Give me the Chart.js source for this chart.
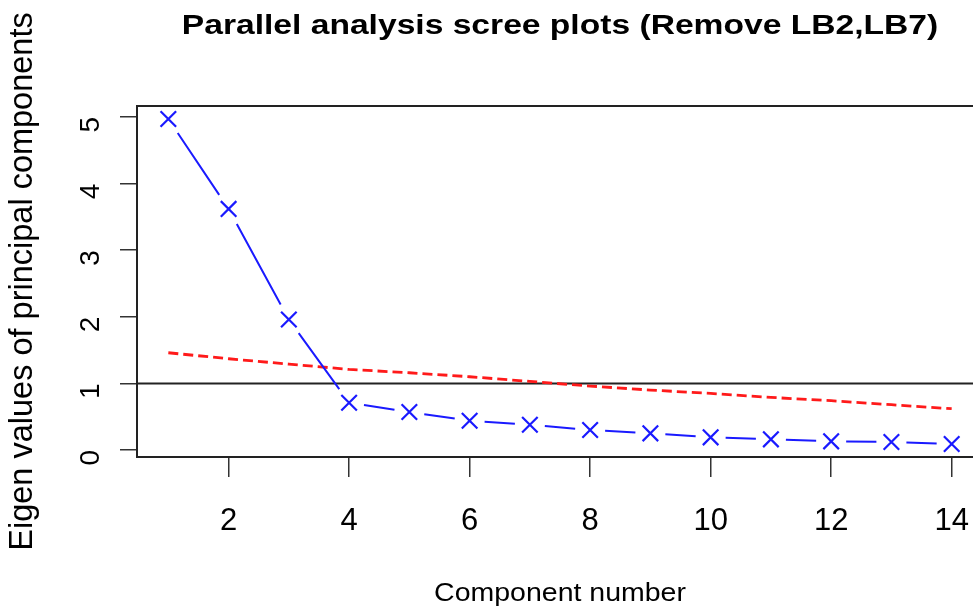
<!DOCTYPE html>
<html>
<head>
<meta charset="utf-8">
<script src="https://cdn.jsdelivr.net/npm/chart.js@4.4.0/dist/chart.umd.min.js"></script>
<style>
  html, body { margin: 0; padding: 0; background: #fff; overflow: hidden; }
  #wrap { width: 1120px; height: 609px; }
</style>
</head>
<body>
<div id="wrap"><canvas id="scree" width="1120" height="609"></canvas></div>
<script>
// Parallel analysis scree plot data
const components = [1, 2, 3, 4, 5, 6, 7, 8, 9, 10, 11, 12, 13, 14];
const actualEigen = [4.97, 3.62, 1.96, 0.71, 0.57, 0.44, 0.38, 0.30, 0.25, 0.19, 0.16, 0.13, 0.12, 0.09];
const simulatedEigen = [1.46, 1.37, 1.29, 1.21, 1.16, 1.10, 1.03, 0.96, 0.90, 0.85, 0.79, 0.74, 0.68, 0.62];
const xTicks = [2, 4, 6, 8, 10, 12, 14];
const yTicks = [0, 1, 2, 3, 4, 5];
const refLine = 1;
const mainTitle = 'Parallel analysis scree plots (Remove LB2,LB7)';
const xLabel = 'Component number';
const yLabel = 'Eigen values of principal components';

const sans = '"Liberation Sans", Arial, Helvetica, sans-serif';

// R style box around the plot region plus the abline(h = 1)
const boxPlugin = {
    id: 'rbox',
    beforeDatasetsDraw: (chart) => {
        const ctx = chart.ctx;
        const a = chart.chartArea;
        const y = chart.scales.y.getPixelForValue(refLine);
        ctx.save();
        ctx.strokeStyle = '#222';
        ctx.lineWidth = 2;
        ctx.beginPath();
        ctx.moveTo(a.left, y);
        ctx.lineTo(a.right, y);
        ctx.stroke();
        ctx.strokeRect(a.left, a.top, a.right - a.left, a.bottom - a.top);
        ctx.restore();
    }
};

// type = "b": segments between points with a gap round each marker
const gapLinePlugin = {
    id: 'gapline',
    afterDatasetsDraw: (chart) => {
        const meta = chart.getDatasetMeta(0);
        const ctx = chart.ctx;
        const gx = 15, gy = 18;
        ctx.save();
        ctx.strokeStyle = '#1a1aff';
        ctx.lineWidth = 2;
        ctx.beginPath();
        for (let i = 0; i < meta.data.length - 1; i++) {
            const p = meta.data[i], q = meta.data[i + 1];
            const dx = q.x - p.x, dy = q.y - p.y;
            const len = Math.sqrt(dx * dx + dy * dy);
            const c = dx / len, s = dy / len;
            const t = 1 / Math.sqrt((c / gx) * (c / gx) + (s / gy) * (s / gy));
            if (len <= 2 * t) continue;
            ctx.moveTo(p.x + c * t, p.y + s * t);
            ctx.lineTo(q.x - c * t, q.y - s * t);
        }
        ctx.stroke();
        ctx.restore();
    }
};

// main title and x label, a bit wider than the font (like the png)
function wideText(ctx, text, cx, baseline, font, sx) {
    ctx.save();
    ctx.font = font;
    ctx.fillStyle = '#000';
    ctx.textAlign = 'center';
    ctx.textBaseline = 'alphabetic';
    ctx.translate(cx, baseline);
    ctx.scale(sx, 1);
    ctx.fillText(text, 0, 0);
    ctx.restore();
}

const labelPlugin = {
    id: 'labels',
    afterDraw: (chart) => {
        const a = chart.chartArea;
        const cx = (a.left + a.right) / 2;
        wideText(chart.ctx, mainTitle, cx, 34, 'bold 28px ' + sans, 1.2);
        wideText(chart.ctx, xLabel, cx, 601, '25px ' + sans, 1.14);
    }
};

const ctx = document.getElementById('scree').getContext('2d');
new Chart(ctx, {
    type: 'scatter',
    data: {
        datasets: [
            {
                label: 'Actual Data',
                data: components.map((c, i) => ({ x: c, y: actualEigen[i] })),
                showLine: false,
                pointStyle: 'crossRot',
                pointRadius: 11,
                pointBorderWidth: 2.2,
                pointBorderColor: '#1a1aff',
                pointBackgroundColor: '#1a1aff'
            },
            {
                label: 'Simulated Data',
                data: components.map((c, i) => ({ x: c, y: simulatedEigen[i] })),
                showLine: true,
                borderColor: '#ff1a1a',
                borderWidth: 2.8,
                borderDash: [10, 5],
                pointRadius: 0,
                fill: false
            }
        ]
    },
    options: {
        responsive: false,
        animation: false,
        layout: { padding: { left: 0, right: 137, top: 106, bottom: 0 } },
        plugins: {
            legend: { display: false },
            tooltip: { enabled: false },
            title: { display: false }
        },
        scales: {
            x: {
                type: 'linear',
                min: 0.48,
                max: 14.52,
                afterBuildTicks: (s) => { s.ticks = xTicks.map(v => ({ value: v })); },
                afterFit: (s) => { s.height = 152; },
                grid: { drawOnChartArea: false, drawTicks: true, tickLength: 20, color: '#333', lineWidth: 1.5 },
                border: { display: false },
                ticks: { color: '#000', padding: 26, maxRotation: 0, font: { family: sans, size: 31 } }
            },
            y: {
                type: 'linear',
                min: -0.105,
                max: 5.165,
                afterBuildTicks: (s) => { s.ticks = yTicks.map(v => ({ value: v })); },
                afterFit: (s) => { s.width = 137; },
                grid: { drawOnChartArea: false, drawTicks: true, tickLength: 17, color: '#333', lineWidth: 1.5 },
                border: { display: false },
                ticks: { color: '#000', padding: 29, minRotation: 90, maxRotation: 90, font: { family: sans, size: 28 } },
                title: {
                    display: true,
                    text: yLabel,
                    color: '#000',
                    font: { family: sans, size: 32.5 },
                    padding: { top: 4, bottom: 0 }
                }
            }
        }
    },
    plugins: [boxPlugin, gapLinePlugin, labelPlugin]
});
</script>
</body>
</html>
